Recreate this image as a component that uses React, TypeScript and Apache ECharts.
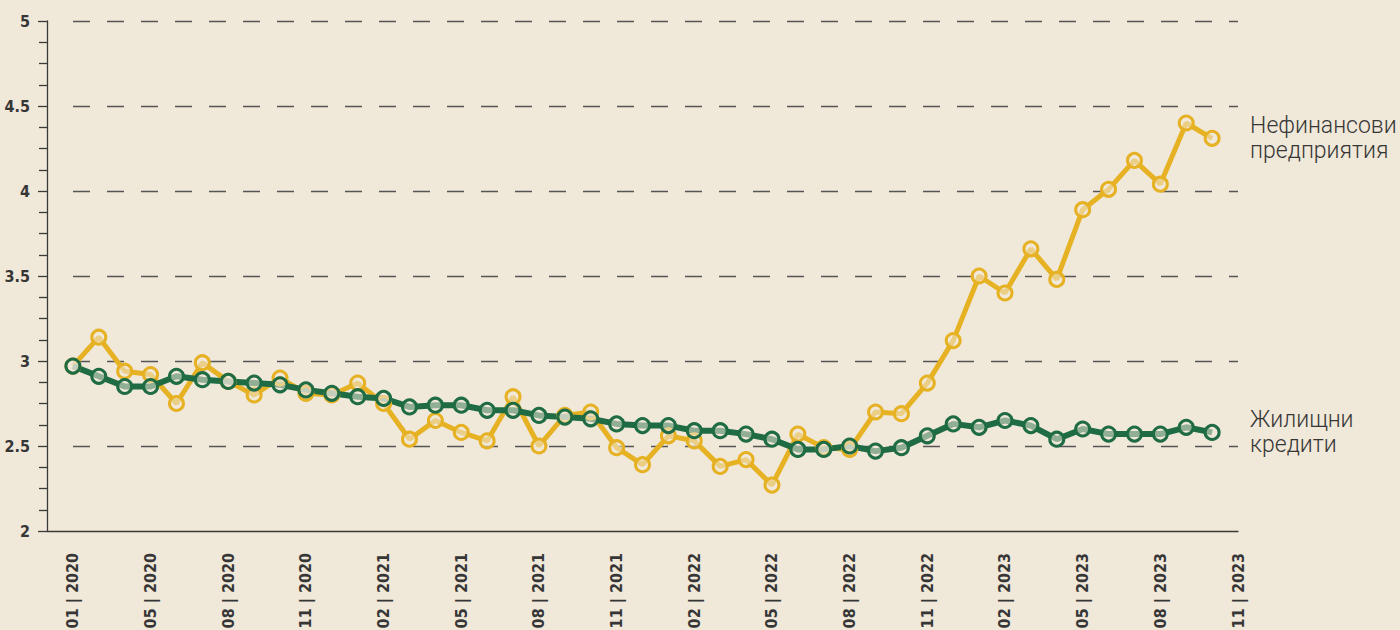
import React, { useEffect, useRef } from "react";
import * as echarts from "echarts";

// 47 monthly slots: 01|2020 ... 11|2023 (data runs 02|2020 ... 10|2023)
const months: string[] = [
  "01 | 2020", "02 | 2020", "03 | 2020", "04 | 2020", "05 | 2020", "06 | 2020", "07 | 2020", "08 | 2020", "09 | 2020", "10 | 2020", "11 | 2020", "12 | 2020",
  "01 | 2021", "02 | 2021", "03 | 2021", "04 | 2021", "05 | 2021", "06 | 2021", "07 | 2021", "08 | 2021", "09 | 2021", "10 | 2021", "11 | 2021", "12 | 2021",
  "01 | 2022", "02 | 2022", "03 | 2022", "04 | 2022", "05 | 2022", "06 | 2022", "07 | 2022", "08 | 2022", "09 | 2022", "10 | 2022", "11 | 2022", "12 | 2022",
  "01 | 2023", "02 | 2023", "03 | 2023", "04 | 2023", "05 | 2023", "06 | 2023", "07 | 2023", "08 | 2023", "09 | 2023", "10 | 2023", "11 | 2023",
];

// labels as printed on the axis (every third slot starting at slot 1)
const tickLabels: string[] = [
  "01 | 2020", "05 | 2020", "08 | 2020", "11 | 2020",
  "02 | 2021", "05 | 2021", "08 | 2021", "11 | 2021",
  "02 | 2022", "05 | 2022", "08 | 2022", "11 | 2022",
  "02 | 2023", "05 | 2023", "08 | 2023", "11 | 2023",
];

const nonFinancial: number[] = [
  2.97, 3.14, 2.94, 2.92, 2.75, 2.99, 2.88, 2.80, 2.90, 2.81, 2.80, 2.87,
  2.75, 2.54, 2.65, 2.58, 2.53, 2.79, 2.50, 2.68, 2.70, 2.49, 2.39, 2.56,
  2.53, 2.38, 2.42, 2.27, 2.57, 2.49, 2.48, 2.70, 2.69, 2.87, 3.12, 3.50,
  3.40, 3.66, 3.48, 3.89, 4.01, 4.18, 4.04, 4.40, 4.31,
];

const housing: number[] = [
  2.97, 2.91, 2.85, 2.85, 2.91, 2.89, 2.88, 2.87, 2.86, 2.83, 2.81, 2.79,
  2.78, 2.73, 2.74, 2.74, 2.71, 2.71, 2.68, 2.67, 2.66, 2.63, 2.62, 2.62,
  2.59, 2.59, 2.57, 2.54, 2.48, 2.48, 2.50, 2.47, 2.49, 2.56, 2.63, 2.61,
  2.65, 2.62, 2.54, 2.60, 2.57, 2.57, 2.57, 2.61, 2.58,
];

const seriesNames = ["Нефинансови\nпредприятия", "Жилищни\nкредити"];

const YELLOW = "#e6b224";
const GREEN = "#1e6b44";
const TEXT = "#363636";
const BG = "#f0e8d9";
const AXIS_FONT = "'DejaVu Sans Condensed', 'Liberation Sans Narrow', Roboto, sans-serif";
const LABEL_FONT = "Roboto, 'Noto Sans', sans-serif";

export default function App() {
  const ref = useRef<HTMLDivElement>(null);

  useEffect(() => {
    if (!ref.current) return;
    const chart = echarts.init(ref.current, null, { renderer: "svg" });

    const pad = (arr: number[]) => [null as any, ...arr];

    const makeSeries = (name: string, data: number[], color: string, width: number) => ({
      type: "line",
      name,
      xAxisIndex: 0,
      yAxisIndex: 0,
      data: pad(data),
      symbol: "circle",
      symbolSize: 14,
      showAllSymbol: true,
      lineStyle: { color, width },
      itemStyle: { color: "rgba(240,232,217,0.55)", borderColor: color, borderWidth: 3 },
      emphasis: { disabled: true },
      endLabel: {
        show: true,
        formatter: () => name,
        color: TEXT,
        fontFamily: LABEL_FONT,
        fontWeight: 300,
        fontSize: 23,
        lineHeight: 25,
        align: "left",
        verticalAlign: "middle",
        distance: 38,
      },
    });

    chart.setOption({
      animation: false,
      backgroundColor: BG,
      grid: [
        { left: 47, right: 162, top: 21, bottom: 99, containLabel: false, outerBoundsMode: "none" },
        { left: 56, right: 162, top: 21, bottom: 99, containLabel: false, outerBoundsMode: "none" },
      ],
      xAxis: [
        {
          type: "category",
          gridIndex: 0,
          data: months,
          boundaryGap: false,
          axisLine: { lineStyle: { color: "#3a3a3a", width: 1.3 } },
          axisTick: { show: false },
          splitLine: { show: false },
          axisLabel: {
            interval: (idx: number) => idx >= 1 && (idx - 1) % 3 === 0,
            formatter: (_v: string, idx: number) => tickLabels[(idx - 1) / 3] ?? "",
            rotate: 90,
            margin: 22,
            color: TEXT,
            fontFamily: AXIS_FONT,
            fontWeight: "bold",
            fontSize: 16,
          },
        },
        { type: "value", gridIndex: 1, show: false, min: 0, max: 1 },
      ],
      yAxis: [
        {
          type: "value",
          gridIndex: 0,
          min: 2,
          max: 5,
          interval: 0.5,
          axisLine: { show: true, lineStyle: { color: "#3a3a3a", width: 1.3 } },
          axisTick: { show: true, inside: false, length: 9, lineStyle: { color: "#3a3a3a", width: 1.3 } },
          minorTick: { show: true, splitNumber: 4, length: 8, lineStyle: { color: "#3a3a3a", width: 1.3 } },
          splitLine: { show: false },
          axisLabel: {
            margin: 17,
            color: TEXT,
            fontFamily: AXIS_FONT,
            fontWeight: "bold",
            fontSize: 16,
            formatter: (v: number) => String(v),
          },
        },
        {
          type: "value",
          gridIndex: 1,
          min: 2,
          max: 5,
          interval: 0.5,
          axisLine: { show: false },
          axisTick: { show: false },
          axisLabel: { show: false },
          splitLine: {
            show: true,
            showMinLine: false,
            lineStyle: { color: "#555", width: 1.3, type: [17, 17], dashOffset: 17 },
          },
        },
      ],
      series: [
        makeSeries(seriesNames[0], nonFinancial, YELLOW, 5),
        makeSeries(seriesNames[1], housing, GREEN, 6),
      ],
    });

    return () => chart.dispose();
  }, []);

  return (
    <div
      ref={ref}
      style={{ position: "fixed", left: 0, top: 0, width: 1400, height: 630 }}
    />
  );
}
